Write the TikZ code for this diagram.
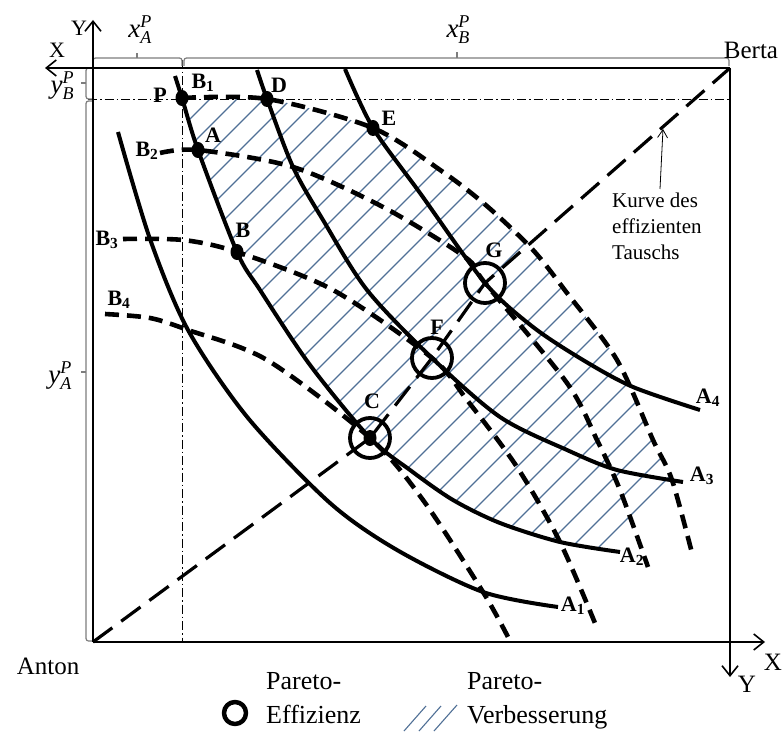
\documentclass[tikz,border=0pt]{standalone}
\usepackage{fontspec}
\setmainfont{Liberation Serif}
\usetikzlibrary{arrows.meta}
\definecolor{hatchblue}{RGB}{80,112,150}
\definecolor{brkgray}{RGB}{125,125,125}
\newcommand{\plabel}[2]{\textit{#1}\rlap{\raisebox{10pt}{\fontsize{18}{18}\selectfont\textit{P}}}\raisebox{-6pt}{\fontsize{18}{18}\selectfont\textit{#2}}}
\begin{document}
\begin{tikzpicture}[x=1pt,y=-1pt, line join=round,
  acurve/.style={line width=4pt},
  bcurve/.style={line width=4.6pt, dash pattern=on 14pt off 8pt},
  effline/.style={line width=3.2pt, dash pattern=on 24pt off 11pt},
  axisline/.style={line width=1.8pt, -{Straight Barb[length=10pt,width=16pt,line width=1.6pt]}},
  brk/.style={draw=brkgray, line width=1.2pt, rounded corners=2.5pt},
  guide/.style={line width=0.8pt, dash pattern=on 9pt off 3pt on 1.5pt off 3pt},
  hatchline/.style={draw=hatchblue, line width=1.1pt},
  ptlbl/.style={font=\fontsize{22}{24}\selectfont\bfseries, inner sep=0pt},
  mathlbl/.style={font=\fontsize{27}{28}\selectfont, inner sep=0pt},
  bigtxt/.style={font=\fontsize{25}{30}\selectfont, inner sep=0pt},
  legtxt/.style={font=\fontsize{26}{34}\selectfont, inner sep=0pt, align=left, anchor=north west},
  effcircle/.style={line width=3.8pt},
  ptdot/.style={fill=black},
]
\fill[white] (0,0) rectangle (782,741);
\useasboundingbox (0,0) rectangle (782,741);

% key coordinates
\coordinate (anton) at (93,642);
\coordinate (berta) at (730,68);
\coordinate (xAend) at (765,642);
\coordinate (yAend) at (93,20);
\coordinate (xBend) at (45,68);
\coordinate (yBend) at (730,677);
\coordinate (P) at (182,98);
\coordinate (A) at (198,150);
\coordinate (B) at (237,252);
\coordinate (C) at (370,438);
\coordinate (D) at (267,99);
\coordinate (E) at (373,128);
\coordinate (F) at (432,358);
\coordinate (G) at (485,283);

% hatching (Pareto improvement)
\begin{scope}
\clip plot[smooth] coordinates {(P) (A) (B) (260,290) (310,365) (C) (410,470) (453,500) (500,523) (560,542) (620,552)}
  -- (690,515)
  -- plot[smooth] coordinates {(672,480) (653,440) (617,360) (567,293) (533,250) (488,207) (443,172) (E) (D) (P)} -- cycle;
\foreach \n in {0,...,34} {
  \pgfmathsetmacro{\k}{1146-27*\n}
  \draw[hatchline] (\k,0) -- ({\k-800},800);
}
\end{scope}

% guide lines
\coordinate (gh1) at (88,99);
\coordinate (gh2) at (730,99);
\coordinate (gv1) at (182,60);
\coordinate (gv2) at (182,642);
\draw[guide] (gh1) -- (gh2);
\draw[guide] (gv1) -- (gv2);

% brackets
\draw[brk] (93,66) -- (93,58) -- (182,58) -- (182,66);
\draw[brk] (137,58) -- (137,53);
\draw[brk] (184,66) -- (184,58) -- (729,58) -- (729,66);
\draw[brk] (457,58) -- (457,52);
\draw[brk] (92,68) -- (86,68) -- (86,99) -- (92,99);
\draw[brk] (86,83) -- (81,83);
\draw[brk] (92,101) -- (86,101) -- (86,641) -- (92,641);
\draw[brk] (86,372) -- (81,372);

% axes
\draw[axisline] (anton) -- (xAend);
\draw[axisline] (anton) -- (yAend);
\draw[axisline] (berta) -- (xBend);
\draw[axisline] (berta) -- (yBend);

% Anton indifference curves
\draw[acurve] plot[smooth] coordinates {(118,132) (150,239) (188,330) (248,418) (330,503) (397,550) (483,592) (558,607)};
\draw[acurve] plot[smooth] coordinates {(175,76) (P) (A) (B) (260,290) (310,365) (C) (410,470) (453,500) (500,523) (560,542) (620,552)};
\draw[acurve] plot[smooth] coordinates {(257,70) (D) (293,167) (323,220) (367,290) (F) (500,417) (567,450) (617,470) (683,482)};
\draw[acurve] plot[smooth] coordinates {(345,69) (E) (420,193) (G) (533,327) (583,360) (633,387) (700,410)};

% Berta indifference curves
\draw[bcurve] plot[smooth] coordinates {(P) (D) (E) (443,172) (488,207) (533,250) (567,293) (617,360) (653,440) (672,480) (693,557)};
\draw[bcurve] plot[smooth] coordinates {(160,153) (A) (293,167) (383,207) (465,257) (G) (567,383) (597,440) (620,490) (648,567)};
\draw[bcurve] plot[smooth] coordinates {(123,239) (183,240) (B) (333,290) (F) (467,400) (517,467) (560,542) (597,628)};
\draw[bcurve] plot[smooth] coordinates {(105,314) (150,318) (188,330) (267,360) (C) (423,500) (483,592) (508,637)};

% efficient exchange curve
\draw[effline] (anton) -- (C) -- (F) -- (G) -- (berta);

% Pareto-efficient points
\draw[effcircle] (C) circle[radius=20pt];
\draw[effcircle] (F) circle[radius=20pt];
\draw[effcircle] (G) circle[radius=20pt];

% dots
\foreach \p in {P,A,B,C,D,E} {
  \fill[ptdot] (\p) ellipse[x radius=6.5pt, y radius=8pt];
}

% point labels
\node[ptlbl] (lP) at (160,95) {P};
\node[ptlbl] (lA) at (213,135) {A};
\node[ptlbl] (lB) at (243,230) {B};
\node[ptlbl] (lC) at (372,401) {C};
\node[ptlbl] (lD) at (279,85) {D};
\node[ptlbl] (lE) at (389,118) {E};
\node[ptlbl] (lF) at (437,327) {F};
\node[ptlbl] (lG) at (494,250) {G};

% curve labels
\node[ptlbl] (lB1) at (203,83) {B\textsubscript{1}};
\node[ptlbl] (lB2) at (147,151) {B\textsubscript{2}};
\node[ptlbl] (lB3) at (107,240) {B\textsubscript{3}};
\node[ptlbl] (lB4) at (119,300) {B\textsubscript{4}};
\node[ptlbl] (lA1) at (573,606) {A\textsubscript{1}};
\node[ptlbl] (lA2) at (632,557) {A\textsubscript{2}};
\node[ptlbl] (lA3) at (702,476) {A\textsubscript{3}};
\node[ptlbl] (lA4) at (708,398) {A\textsubscript{4}};

% axis labels
\node[mathlbl] (xAP) at (140,30) {\plabel{x}{A}};
\node[mathlbl] (xBP) at (458,30) {\plabel{x}{B}};
\node[mathlbl] (yBP) at (62,86) {\plabel{y}{B}};
\node[mathlbl] (yAP) at (60,376) {\plabel{y}{A}};
\node[bigtxt, font=\fontsize{22}{26}\selectfont] (lYA) at (79,28) {Y};
\node[bigtxt, font=\fontsize{22}{26}\selectfont] (lXB) at (57,50) {X};
\node[bigtxt] (lXA) at (773,662) {X};
\node[bigtxt] (lYB) at (747,684) {Y};
\node[bigtxt] (anton label) at (48,666) {Anton};
\node[bigtxt] (berta label) at (751,50) {Berta};

% annotation of the efficiency curve
\node[font=\fontsize{21}{26}\selectfont, inner sep=0pt, align=left, anchor=north west] (kurve) at (612,193) {Kurve des\\effizienten\\Tauschs};
\coordinate (kurvetip) at (663,129);
\coordinate (kstart) at (660,189);
\draw[line width=0.8pt, -{Straight Barb[length=8pt,width=10pt,line width=0.8pt]}] (kstart) -- (kurvetip);

% legend
\coordinate (legc) at (235,713);
\draw[line width=4.5pt] (legc) circle[radius=11pt];
\node[legtxt] (leg1) at (266,672) {Pareto-\\Effizienz};
\draw[hatchline] (404,731) -- (426,706);
\draw[hatchline] (419,731) -- (441,706);
\draw[hatchline] (434,731) -- (457,705);
\node[legtxt] (leg2) at (467,672) {Pareto-\\Verbesserung};
\end{tikzpicture}
\end{document}
